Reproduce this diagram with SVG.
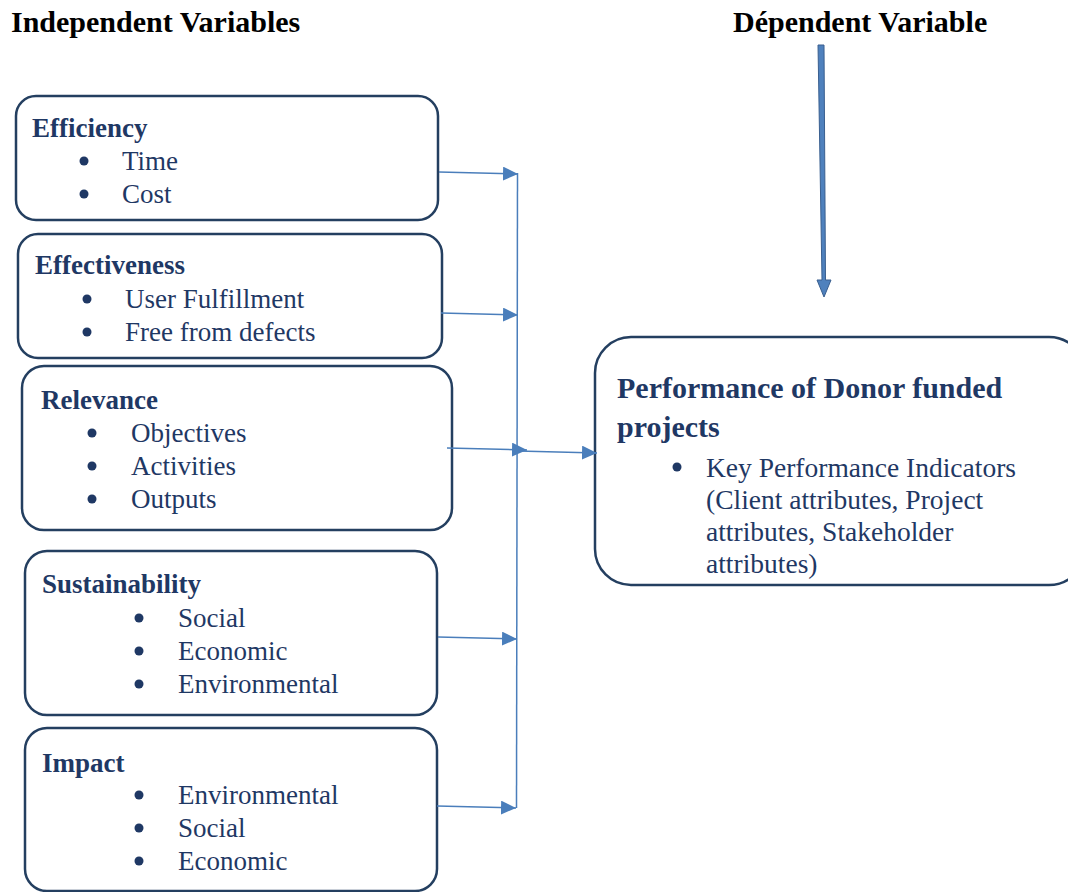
<svg xmlns="http://www.w3.org/2000/svg" width="1068" height="892" viewBox="0 0 1068 892">
<style>
.box{fill:#fff;stroke:#243f60;stroke-width:2.5}
.hd{font-family:"Liberation Serif",serif;font-weight:bold;font-size:30px;fill:#000}
.t{font-family:"Liberation Serif",serif;font-weight:bold;font-size:27px;fill:#1f3864}
.i{font-family:"Liberation Serif",serif;font-size:27px;fill:#1f3864}
.pt{font-family:"Liberation Serif",serif;font-weight:bold;font-size:30px;fill:#1f3864}
.k{font-family:"Liberation Serif",serif;font-size:27.5px;fill:#1f3864}
.b{fill:#1f3864}
.c{stroke:#4a7ebb;stroke-width:1.5;fill:none}
</style>
<defs>
<marker id="ah" markerUnits="userSpaceOnUse" markerWidth="16" markerHeight="16" refX="15" refY="7" orient="auto">
<path d="M0,0 L15,7 L0,14 Z" fill="#4a7ebb"/>
</marker>
</defs>
<rect width="1068" height="892" fill="#fff"/>
<text class="hd" x="11" y="32">Independent Variables</text>
<text class="hd" x="733" y="32">Dépendent Variable</text>

<g id="efficiency">
<rect class="box" x="16" y="96" width="422" height="124" rx="20"/>
<text class="t" x="32" y="137">Efficiency</text>
<circle class="b" cx="84" cy="161" r="4.5"/><text class="i" x="122" y="170">Time</text>
<circle class="b" cx="84" cy="194" r="4.5"/><text class="i" x="122" y="203">Cost</text>
</g>
<g id="effectiveness">
<rect class="box" x="18" y="234" width="424" height="124" rx="20"/>
<text class="t" x="35" y="274">Effectiveness</text>
<circle class="b" cx="87" cy="299" r="4.5"/><text class="i" x="125" y="308">User Fulfillment</text>
<circle class="b" cx="87" cy="332" r="4.5"/><text class="i" x="125" y="341">Free from defects</text>
</g>
<g id="relevance">
<rect class="box" x="22" y="366" width="430" height="164" rx="22"/>
<text class="t" x="41" y="409">Relevance</text>
<circle class="b" cx="92" cy="433" r="4.5"/><text class="i" x="131" y="442">Objectives</text>
<circle class="b" cx="92" cy="466" r="4.5"/><text class="i" x="131" y="475">Activities</text>
<circle class="b" cx="92" cy="499" r="4.5"/><text class="i" x="131" y="508">Outputs</text>
</g>
<g id="sustainability">
<rect class="box" x="25" y="551" width="412" height="164" rx="22"/>
<text class="t" x="42" y="593">Sustainability</text>
<circle class="b" cx="139" cy="618" r="4.5"/><text class="i" x="178" y="627">Social</text>
<circle class="b" cx="139" cy="651" r="4.5"/><text class="i" x="178" y="660">Economic</text>
<circle class="b" cx="139" cy="684" r="4.5"/><text class="i" x="178" y="693">Environmental</text>
</g>
<g id="impact">
<rect class="box" x="25" y="728" width="412" height="163" rx="22"/>
<text class="t" x="42" y="772">Impact</text>
<circle class="b" cx="139" cy="795" r="4.5"/><text class="i" x="178" y="804">Environmental</text>
<circle class="b" cx="139" cy="828" r="4.5"/><text class="i" x="178" y="837">Social</text>
<circle class="b" cx="139" cy="861" r="4.5"/><text class="i" x="178" y="870">Economic</text>
</g>
<g id="performance">
<rect class="box" x="595" y="337" width="490" height="248" rx="36"/>
<text class="pt" x="617" y="398">Performance of Donor funded</text>
<text class="pt" x="617" y="437">projects</text>
<circle class="b" cx="677" cy="467" r="4.5"/>
<text class="k" x="706" y="477">Key Performance Indicators</text>
<text class="k" x="706" y="509">(Client attributes, Project</text>
<text class="k" x="706" y="541">attributes, Stakeholder</text>
<text class="k" x="706" y="573">attributes)</text>
</g>

<g id="connectors">
<line class="c" x1="517.5" y1="173" x2="516.5" y2="808"/>
<line class="c" x1="439" y1="172" x2="518" y2="174" marker-end="url(#ah)"/>
<line class="c" x1="441" y1="313" x2="518" y2="315" marker-end="url(#ah)"/>
<line class="c" x1="447" y1="448" x2="527" y2="450" marker-end="url(#ah)"/>
<line class="c" x1="518" y1="451" x2="597" y2="453" marker-end="url(#ah)"/>
<line class="c" x1="438" y1="637" x2="517" y2="639" marker-end="url(#ah)"/>
<line class="c" x1="437" y1="806" x2="516" y2="808" marker-end="url(#ah)"/>
<path d="M818,45 L824,45 L825.5,280 L831,280 L824,297 L817,280 L822,280 Z" fill="#4f81bd" stroke="#3a5f8f" stroke-width="1"/>
</g>
</svg>
